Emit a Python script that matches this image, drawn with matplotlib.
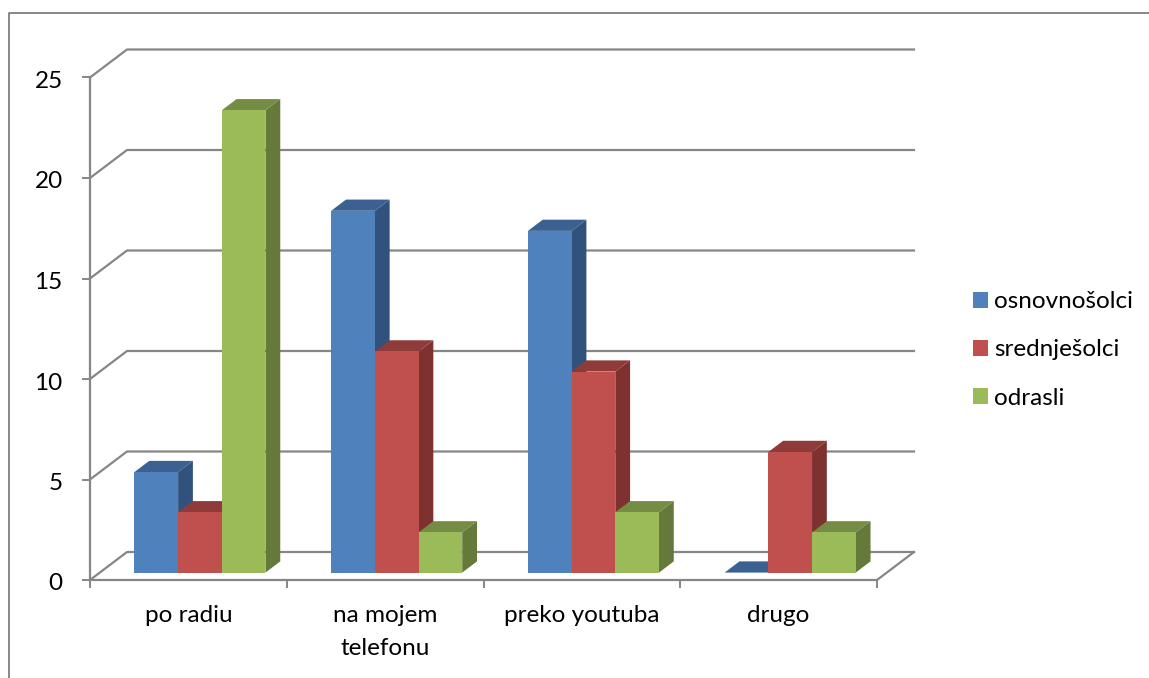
import matplotlib
matplotlib.use("Agg")
import matplotlib.pyplot as plt
from matplotlib.lines import Line2D
from matplotlib.patches import Patch, Polygon
from matplotlib.transforms import ScaledTranslation

plt.rcParams['font.family'] = ['Lato', 'DejaVu Sans']

categories = ["po radiu", "na mojem\ntelefonu", "preko youtuba", "drugo"]
series_names = ["osnovnošolci", "srednješolci", "odrasli"]
osnovnosolci = [5, 18, 17, 0]
srednjesolci = [3, 11, 10, 6]
odrasli = [23, 2, 3, 2]
y_ticks = [0, 5, 10, 15, 20, 25]

front_cols = ["#4F81BD", "#C0504D", "#9BBB59"]
top_cols = ["#3A6192", "#8F3B39", "#748C43"]
side_cols = ["#31527C", "#7F3130", "#64793A"]
GRID = "#868686"

# oblique depth, in data units per full depth of the floor
DX = 0.188
DY = 1.393
BAR_W = 0.222
BAR_SHIFT = 0.009
D0 = 0.265
D1 = 0.665
FS = 17.5

W, H = 1149, 678
fig = plt.figure(figsize=(W / 100, H / 100), dpi=100, facecolor="white")
ax = fig.add_axes([90 / W, (H - 580) / H, 787 / W, 502.5 / H])
ax.set_xlim(0, 4)
ax.set_ylim(0, 25)
ax.patch.set_visible(False)


def pt(x, y, d):
    return (x + d * DX, y + d * DY)


# outer frame of the picture, only left and top are visible
fig.add_artist(Line2D([9 / W, 9 / W, 1], [0, 1 - 12.5 / H, 1 - 12.5 / H], color="#7F7F7F", lw=1.3))

# walls
for v in y_ticks:
    a = pt(0, v, 0)
    b = pt(0, v, 1)
    c = pt(4, v, 1)
    ax.plot([a[0], b[0], c[0]], [a[1], b[1], c[1]], color=GRID, lw=1.6, clip_on=False, zorder=1)
a = pt(4, 0, 0)
b = pt(4, 0, 1)
ax.plot([a[0], b[0]], [a[1], b[1]], color=GRID, lw=1.6, clip_on=False, zorder=1)

# bars, left to right so that the next one covers the side of the previous
all_vals = [osnovnosolci, srednjesolci, odrasli]
z = 3
for i in range(len(categories)):
    for j, vals in enumerate(all_vals):
        v = vals[i]
        x0 = i + 0.5 + BAR_SHIFT + (j - 1.5) * BAR_W
        x1 = x0 + BAR_W
        side = [pt(x1, 0, D0), pt(x1, v, D0), pt(x1, v, D1), pt(x1, 0, D1)]
        top = [pt(x0, v, D0), pt(x1, v, D0), pt(x1, v, D1), pt(x0, v, D1)]
        front = [pt(x0, 0, D0), pt(x1, 0, D0), pt(x1, v, D0), pt(x0, v, D0)]
        ax.add_patch(Polygon(side, fc=side_cols[j], ec="none", clip_on=False, zorder=z))
        ax.add_patch(Polygon(top, fc=top_cols[j], ec="none", clip_on=False, zorder=z))
        if v > 0:
            ax.add_patch(Polygon(front, fc=front_cols[j], ec="none", clip_on=False, zorder=z))
        z += 1

for s in ["top", "right"]:
    ax.spines[s].set_visible(False)
for s in ["left", "bottom"]:
    ax.spines[s].set_color(GRID)
    ax.spines[s].set_linewidth(1.6)
    ax.spines[s].set_zorder(2)

ax.set_yticks(y_ticks)
ax.set_xticks(range(5))
ax.set_xticklabels([])
ax.set_xticks([i + 0.5 for i in range(4)], categories, minor=True)
ax.tick_params(axis="y", length=6, width=1.4, color=GRID, labelsize=FS, pad=13.7, labelcolor="black")
ax.tick_params(axis="x", which="major", length=6, width=1.4, color=GRID)
ax.tick_params(axis="x", which="minor", length=0, labelsize=FS, pad=18)
for lab in ax.get_xticklabels(minor=True):
    lab.set_linespacing(1.72)
# y labels sit a little under their ticks
nudge = ScaledTranslation(0, -2 / 100, fig.dpi_scale_trans)
for lab in ax.get_yticklabels():
    lab.set_transform(lab.get_transform() + nudge)

handles = [Patch(fc=c, ec="none") for c in front_cols]
fig.legend(handles, series_names, loc="center left", bbox_to_anchor=(966 / W, 1 - 350 / H), frameon=False,
           fontsize=FS, handlelength=0.62, handleheight=0.62, handletextpad=0.25, labelspacing=1.12,
           borderpad=0, borderaxespad=0.3)

fig.savefig("out.png", dpi=100, facecolor="white")
